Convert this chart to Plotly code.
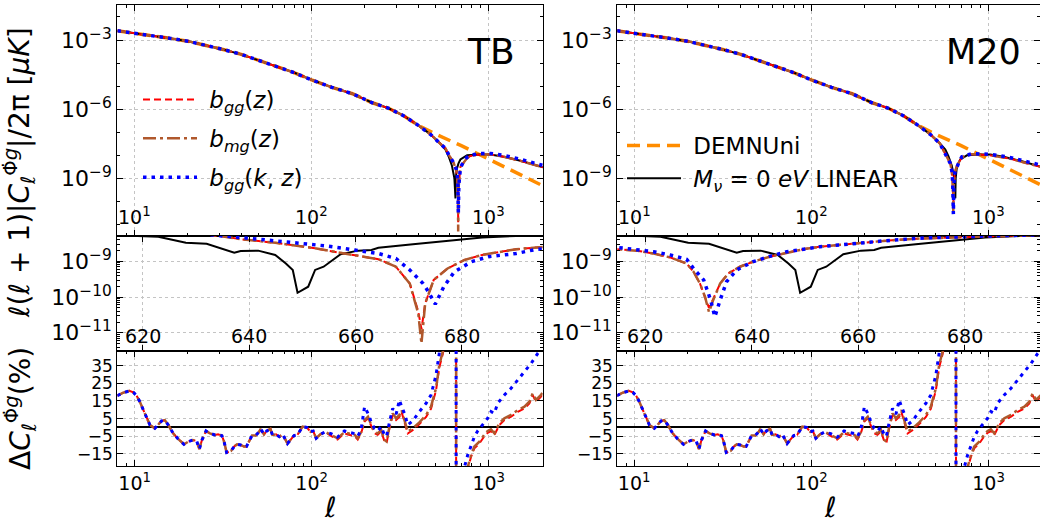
import math
import plotly.graph_objects as go

# ---------------- data (top/middle panels stored as log10) -------------
# common low-ell part of all top-panel curves
top_common_ell = [8, 10, 13, 16, 20, 25, 32, 40, 50, 63, 80, 100, 130, 170, 220, 270, 330, 400, 470, 530]
top_common_log = [-2.60, -2.70, -2.82, -2.93, -3.05, -3.22, -3.42, -3.62, -3.88, -4.12, -4.42, -4.73,
                  -5.05, -5.33, -5.72, -5.95, -6.28, -6.70, -7.10, -7.48]

# DEMNUni (orange) after it separates
orange_ell = [400, 500, 700, 1000, 1400, 2030]
orange_log = [-6.70, -7.08, -7.58, -8.17, -8.72, -9.33]

# linear Mnu=0 (black)
black_top_ell = [570, 594, 620, 640, 649, 652, 660, 675, 692, 755, 898, 1022, 1215, 1510, 2030]
black_top_log = [-7.75, -8.05, -8.45, -9.00, -9.87, -9.00, -8.60, -8.35, -8.18, -8.00, -7.96, -7.97, -8.06, -8.24, -8.52]

# TB top panel tails
tb_top_ell = [570, 594, 634, 655, 665, 670, 672.3, 675, 692, 723, 755, 788, 898, 1022, 1215, 1510, 2030]
tb_top_red_log = [-7.70, -7.97, -8.33, -8.65, -9.00, -9.60, -10.90, -9.45, -8.50, -8.28, -8.12, -8.03, -7.96, -7.96, -8.06, -8.24, -8.52]
tb_top_brown_log = [-7.70, -7.97, -8.33, -8.65, -9.00, -9.60, -11.30, -9.45, -8.50, -8.28, -8.12, -8.03, -7.96, -7.96, -8.06, -8.24, -8.52]
tb_top_blue_ell = [570, 594, 634, 655, 665, 670, 674, 678, 692, 723, 755, 788, 898, 1022, 1215, 1510, 2030]
tb_top_blue_log = [-7.70, -7.97, -8.33, -8.60, -8.90, -9.30, -10.50, -9.30, -8.55, -8.25, -8.08, -7.99, -7.92, -7.92, -8.00, -8.17, -8.44]

# M20 top panel tails
m20_top_ell = [570, 608, 620, 627, 632, 636, 645, 660, 680, 707, 806, 1000, 1296, 2030]
m20_top_red_log = [-7.92, -8.35, -8.70, -9.20, -10.30, -9.30, -8.75, -8.50, -8.30, -8.08, -7.95, -7.99, -8.13, -8.53]
m20_top_brown_log = [-7.92, -8.35, -8.70, -9.20, -10.45, -9.30, -8.75, -8.50, -8.30, -8.08, -7.95, -7.99, -8.13, -8.53]
m20_top_blue_ell = [570, 608, 620, 627, 632.8, 636, 645, 660, 680, 707, 806, 1000, 1296, 2030]
m20_top_blue_log = [-7.92, -8.35, -8.68, -9.15, -10.55, -9.35, -8.75, -8.50, -8.30, -8.06, -7.93, -7.95, -8.08, -8.45]

# middle (zoom around the zero crossing)
mid_black_ell = [612, 615.3, 622.9, 628.1, 632.0, 637.2, 638.4, 641.7, 644.9, 646.9, 648.2, 649.1, 651.1,
                 652.4, 654.0, 657.2, 660.5, 663.0, 664.3, 670.8, 677.3, 683.8, 690.2, 699]
mid_black_log = [-8.25, -8.27, -8.31, -8.48, -8.51, -8.76, -8.71, -8.70, -8.82, -9.06, -9.24, -9.88, -9.71,
                 -9.24, -9.15, -8.80, -8.70, -8.68, -8.62, -8.52, -8.42, -8.33, -8.29, -8.26]

mid_tb_ell = [612, 625, 634.6, 638.4, 644.9, 651.4, 657.9, 664.3, 667.6, 670.2, 671.8, 672.4, 673.1, 674.7,
              677.3, 680.5, 683.8, 687.0, 690.2, 694.1, 699]
mid_tb_brown_log = [-8.00, -8.15, -8.29, -8.38, -8.48, -8.61, -8.78, -8.94, -9.15, -9.62, -10.46, -11.30, -10.18,
                    -9.52, -9.20, -8.96, -8.82, -8.73, -8.66, -8.61, -8.56]
mid_tb_red_log = [-8.00, -8.15, -8.29, -8.38, -8.48, -8.61, -8.78, -8.94, -9.15, -9.62, -10.40, -10.90, -10.18,
                  -9.52, -9.20, -8.96, -8.82, -8.73, -8.66, -8.61, -8.56]
mid_tb_blue_ell = [612, 630, 640.4, 644.9, 651.4, 654.6, 657.9, 664.3, 667.6, 670.2, 672.7, 673.7, 675.0, 676.6,
                   678.6, 681.8, 685.0, 690.2, 694.1, 699]
mid_tb_blue_log = [-8.05, -8.22, -8.36, -8.42, -8.51, -8.57, -8.64, -8.78, -8.92, -9.24, -9.62, -9.85, -10.20,
                   -9.71, -9.29, -9.01, -8.87, -8.78, -8.66, -8.62]

mid_m20_ell = [612, 618.4, 621.6, 624.7, 627.8, 629.1, 630.3, 631.25, 632.0, 632.8, 634.1, 635.6, 637.8, 640.3,
               643.4, 646.6, 649.7, 652.8, 659.1, 665.3, 671.6, 677.8, 684.1, 690.3, 699]
mid_m20_brown_log = [-8.63, -8.70, -8.78, -8.89, -9.06, -9.29, -9.62, -9.99, -10.42, -10.08, -9.62, -9.34, -9.15,
                     -9.01, -8.87, -8.76, -8.66, -8.59, -8.50, -8.42, -8.36, -8.33, -8.29, -8.27, -8.24]
mid_m20_red_log = [-8.63, -8.70, -8.78, -8.89, -9.06, -9.29, -9.62, -9.99, -10.30, -10.05, -9.62, -9.34, -9.15,
                   -9.01, -8.87, -8.76, -8.66, -8.59, -8.50, -8.42, -8.36, -8.33, -8.29, -8.27, -8.24]
mid_m20_blue_ell = [612, 621.6, 624.7, 627.8, 629.1, 631.0, 632.3, 633.1, 634.1, 635.3, 637.2, 640.3, 643.4,
                    646.6, 652.8, 659.1, 665.3, 671.6, 677.8, 684.1, 690.3, 699]
mid_m20_blue_log = [-8.56, -8.73, -8.82, -8.94, -9.20, -9.52, -10.08, -10.55, -10.08, -9.57, -9.24, -9.01, -8.86,
                    -8.73, -8.59, -8.50, -8.42, -8.35, -8.31, -8.29, -8.27, -8.24]

# bottom: relative difference (%)
delta_low_ell = [7.98, 8.63, 9.33, 9.83, 10.26, 10.7, 11.2, 11.7, 12.2, 13.0, 13.6, 14.2, 14.8, 15.5, 16.5,
                 17.6, 19.0, 20.1, 21.3, 22.4, 23.2, 24.0, 25.3, 26.6, 28.4, 29.6, 31.1, 32.0, 33.1, 35.0,
                 36.5, 37.9, 39.7, 41.5, 42.8, 44.6, 46.0, 48.2, 50.5, 51.5, 53.8, 55.7, 58.5, 60.0, 62.8,
                 65.7, 68.6, 73.0, 75.7, 79.5, 83.1, 88.9, 93.9, 98.6, 102, 106, 112, 119]
delta_low = [18.0, 19.7, 20.7, 19.9, 18.0, 14.6, 9.9, 5.2, 1.4, -0.5, 1.4, 3.7, 4.2, 1.4, -3.3,
             -6.5, -9.5, -8.0, -7.1, -7.6, -12.2, -7.1, -2.0, -3.3, -4.2, -3.9, -4.6, -8.0, -14.2, -13.3,
             -10.8, -9.5, -9.9, -10.8, -10.8, -7.1, -4.6, -4.6, -2.4, -0.8, -3.9, -2.0, -0.8, -4.2, -3.9,
             -5.2, -3.9, -9.1, -7.1, -4.6, -4.2, 0.5, 0.0, -2.4, -2.0, -6.1, -3.9, -2.5]

delta_mid_ell = [128.6, 140, 153, 160, 175, 182, 190, 199, 208, 217, 226, 236, 247, 258, 265, 275, 287, 300,
                 313, 322, 334, 349, 372, 406, 443, 472, 504, 526, 550, 590, 630, 654]
delta_mid_brown = [-4.2, -6.1, -2.7, -3.3, -4.2, -6.1, -2.7, 4.2, 6.1, 1.4, -2.4, -3.3, -1.4, -7.1, -8.0, 0.5,
                   8.0, 5.2, 7.1, 9.9, 4.2, -2.4, -0.5, 2.9, 7.1, 11.8, 22.2, 35.4, 42.9, 60, 150, 600]
delta_mid_red = [-4.8, -6.8, -3.3, -4.0, -4.9, -6.8, -3.4, 3.4, 5.2, 0.6, -3.2, -4.1, -2.2, -7.9, -8.8, -0.4,
                 7.0, 4.2, 6.0, 8.8, 3.2, -3.4, -1.5, 1.9, 6.0, 10.6, 21.0, 34.0, 41.5, 58, 148, 600]
delta_mid_blue = [-3.5, -5.5, -2.0, -2.5, -3.5, -5.0, -1.5, 11.8, 8.0, 3.0, -0.5, -2.0, 0.5, -4.5, -5.0, 3.0,
                  10.8, 7.5, 15.6, 12.0, 8.0, 1.5, 3.7, 9.0, 13.7, 18.4, 29.7, 42.0, 60.0, 80, 160, 600]

delta_hi_ell = [655, 700, 761, 795, 830, 886, 946, 987, 1030, 1076, 1149, 1226, 1338, 1459, 1592, 1697, 1772,
                1850, 1974, 2030]
delta_hi_brown = [-600, -80, -22.5, -15.6, -10.8, -8.0, -3.9, -2.0, -1.0, -3.3, 2.4, 5.2, 7.1, 9.9, 11.8, 14.6,
                  19.3, 15.6, 18.4, 20.5]
delta_hi_red = [-600, -82, -23.5, -16.6, -11.8, -9.0, -4.9, -3.0, -2.0, -4.3, 1.4, 4.2, 6.1, 8.9, 10.8, 13.6,
                18.3, 14.6, 17.4, 19.5]
delta_hi_blue_ell = [655, 700, 729, 761, 795, 830, 866, 925, 987, 1031, 1076, 1124, 1226, 1338, 1459, 1592,
                     1737, 1894, 2030]
delta_hi_blue = [-600, -60, -22.5, -15.6, -10.8, -5.2, -2.0, 1.4, 5.2, 9.0, 8.0, 13.7, 18.4, 22.2, 26.9, 31.6,
                 36.3, 42.0, 46.0]

# tick labels
xlog_tickvals = [10, 100, 1000]
xlog_ticktext = ["10<sup>1</sup>", "10<sup>2</sup>", "10<sup>3</sup>"]
ytop_tickvals = [1e-3, 1e-6, 1e-9]
ytop_ticktext = ["10<sup>−3</sup>", "10<sup>−6</sup>", "10<sup>−9</sup>"]
ymid_tickvals = [1e-9, 1e-10, 1e-11]
ymid_ticktext = ["10<sup>−9</sup>", "10<sup>−10</sup>", "10<sup>−11</sup>"]
xmid_tickvals = [620, 640, 660, 680]
xmid_ticktext = ["620", "640", "660", "680"]
ybot_tickvals = [35, 25, 15, 5, -5, -15]
ybot_ticktext = ["35", "25", "15", "5", "−5", "−15"]


def pw(a):
    return [10 ** v for v in a]


# ---------------- styles ----------------
RED = dict(color="#ff0000", width=2, dash="7px,4px")
BROWN = dict(color="#b0582c", width=2.5, dash="13px,4px,3px,4px")
BLUE = dict(color="#0000ff", width=3.5, dash="3.5px,5px")
ORANGE = dict(color="#ff8c00", width=3.5, dash="13px,7px")
BLACK = dict(color="#000000", width=2)
FONT = "DejaVu Sans"

fig = go.Figure()


def add(x, y, line, xa, ya, name=None, legend=None):
    fig.add_trace(go.Scatter(x=x, y=y, mode="lines", line=line, xaxis=xa, yaxis=ya,
                             name=name, showlegend=legend is not None,
                             legend=legend if legend else "legend", legendgroup=name,
                             hoverinfo="skip"))


SP = "\u00a0"
LBL_RED = SP + "<i>b</i><sub><i>gg</i></sub>(<i>z</i>)"
LBL_BROWN = SP + "<i>b</i><sub><i>mg</i></sub>(<i>z</i>)"
LBL_BLUE = SP + "<i>b</i><sub><i>gg</i></sub>(<i>k</i>, <i>z</i>)"
LBL_OR = SP + "DEMNUni"
LBL_BK = SP + "<i>M</i><sub><i>ν</i></sub> = 0 <i>eV</i> LINEAR"

n_or = 17  # common part up to ell=330 for orange
orange_full_ell = top_common_ell[:n_or] + orange_ell
orange_full = pw(top_common_log[:n_or] + orange_log)
black_full_ell = top_common_ell + black_top_ell
black_full = pw(top_common_log + black_top_log)

# ---- TB column
add(orange_full_ell, orange_full, ORANGE, "x", "y")
add(black_full_ell, black_full, BLACK, "x", "y")
add(top_common_ell + tb_top_ell, pw(top_common_log + tb_top_red_log), RED, "x", "y", LBL_RED, "legend")
add(top_common_ell + tb_top_ell, pw(top_common_log + tb_top_brown_log), BROWN, "x", "y", LBL_BROWN, "legend")
add(top_common_ell + tb_top_blue_ell, pw(top_common_log + tb_top_blue_log), BLUE, "x", "y", LBL_BLUE, "legend")

add(mid_black_ell, pw(mid_black_log), BLACK, "x2", "y2")
add(mid_tb_ell, pw(mid_tb_red_log), RED, "x2", "y2")
add(mid_tb_ell, pw(mid_tb_brown_log), BROWN, "x2", "y2")
add(mid_tb_blue_ell, pw(mid_tb_blue_log), BLUE, "x2", "y2")

bot_ell = delta_low_ell + delta_mid_ell + delta_hi_ell
bot_blue_ell = delta_low_ell + delta_mid_ell + delta_hi_blue_ell
BRED = dict(RED, width=2)
BBROWN = dict(BROWN, width=2.5)
BBLUE = dict(BLUE, width=3)
for xa, ya in (("x3", "y3"), ("x6", "y6")):
    add(bot_ell, delta_low + delta_mid_red + delta_hi_red, BRED, xa, ya)
    add(bot_ell, delta_low + delta_mid_brown + delta_hi_brown, BBROWN, xa, ya)
    add(bot_blue_ell, delta_low + delta_mid_blue + delta_hi_blue, BBLUE, xa, ya)

# ---- M20 column
add(orange_full_ell, orange_full, ORANGE, "x4", "y4", LBL_OR, "legend2")
add(black_full_ell, black_full, BLACK, "x4", "y4", LBL_BK, "legend2")
add(top_common_ell + m20_top_ell, pw(top_common_log + m20_top_red_log), RED, "x4", "y4")
add(top_common_ell + m20_top_ell, pw(top_common_log + m20_top_brown_log), BROWN, "x4", "y4")
add(top_common_ell + m20_top_blue_ell, pw(top_common_log + m20_top_blue_log), BLUE, "x4", "y4")

add(mid_black_ell, pw(mid_black_log), BLACK, "x5", "y5")
add(mid_m20_ell, pw(mid_m20_red_log), RED, "x5", "y5")
add(mid_m20_ell, pw(mid_m20_brown_log), BROWN, "x5", "y5")
add(mid_m20_blue_ell, pw(mid_m20_blue_log), BLUE, "x5", "y5")

# ---------------- axes ----------------
ML, MR, MT, MB = 117, 0, 5, 58
W, H = 1040, 524
pw_w = W - ML - MR
ph_h = H - MT - MB


def px_x(p):
    return (p - ML) / pw_w


def px_y(p):
    return (H - MB - p) / ph_h


XL = [px_x(117.3), px_x(542.7)]
XR = [px_x(617.3), 1.0]
Y_TOP = [px_y(236), 1.0]
Y_MID = [px_y(351), px_y(236)]
Y_BOT = [0.0, px_y(351)]

minor_x = [k * 10 ** e for e in range(0, 4) for k in range(2, 10)]
minor_ytop = [10.0 ** e for e in range(-12, 0)]
minor_ymid = [k * 10.0 ** e for e in range(-12, -8) for k in range(2, 10)]

TICKFONT = dict(size=19, color="black", family=FONT)
LOGYFONT = dict(size=22, color="black", family=FONT)
BOTYFONT = dict(size=17, color="black", family=FONT)


def base(**kw):
    d = dict(showline=True, linecolor="black", linewidth=1.2, mirror="allticks",
             ticks="inside", ticklen=6, tickwidth=1, tickcolor="black",
             showgrid=True, gridcolor="#c4c4c4", griddash="dot", gridwidth=1,
             zeroline=False, tickfont=TICKFONT)
    d.update(kw)
    return d


def minor(vals, ln=3):
    return dict(tickvals=vals, ticks="inside", ticklen=ln, tickwidth=0.8, tickcolor="black", showgrid=False)


layout_axes = {}
inside_labels = []
for dom, xr_log, xr_mid, sfx in [(XL, [0.902, 3.305], [615.2, 695.2], ("", "2", "3")),
                                 (XR, [0.905, 3.29], [614.8, 694.1], ("4", "5", "6"))]:
    a, b, c = sfx
    layout_axes["xaxis" + a] = base(domain=dom, anchor="y" + a, type="log", range=xr_log,
                                    tickvals=xlog_tickvals, showticklabels=False, minor=minor(minor_x, 3))
    layout_axes["yaxis" + a] = base(domain=Y_TOP, anchor="x" + a, type="log", range=[-11.5, -1.48],
                                    tickvals=ytop_tickvals, ticktext=ytop_ticktext, minor=minor(minor_ytop, 3),
                                    tickfont=LOGYFONT)
    layout_axes["xaxis" + b] = base(domain=dom, anchor="y" + b, range=xr_mid,
                                    tickvals=xmid_tickvals, showticklabels=False)
    layout_axes["yaxis" + b] = base(domain=Y_MID, anchor="x" + b, type="log", range=[-11.51, -8.29],
                                    tickvals=ymid_tickvals, ticktext=ymid_ticktext, minor=minor(minor_ymid, 3),
                                    tickfont=LOGYFONT)
    layout_axes["xaxis" + c] = base(domain=dom, anchor="y" + c, type="log", range=xr_log,
                                    tickvals=xlog_tickvals, ticktext=xlog_ticktext, minor=minor(minor_x, 3))
    layout_axes["yaxis" + c] = base(domain=Y_BOT, anchor="x" + c, range=[-21.8, 43.3],
                                    tickvals=ybot_tickvals, ticktext=ybot_ticktext, tickfont=BOTYFONT,
                                    zeroline=True, zerolinecolor="black", zerolinewidth=1.6)
    # tick labels drawn inside the top and middle panels (as in the original)
    for v, t in zip(xlog_tickvals, xlog_ticktext):
        inside_labels.append(dict(text=t, x=math.log10(v), xref="x" + a, y=(236 - 216) / 231.0,
                                  yref="y" + a + " domain", showarrow=False, xanchor="center",
                                  yanchor="middle", font=TICKFONT))
    for v, t in zip(xmid_tickvals, xmid_ticktext):
        inside_labels.append(dict(text=t, x=v, xref="x" + b, y=(351 - 336) / 115.0,
                                  yref="y" + b + " domain", showarrow=False, xanchor="center",
                                  yanchor="middle", font=TICKFONT))


def label(text, xp, yp, size, angle=0):
    return dict(text=text, x=px_x(xp), y=px_y(yp), xref="paper", yref="paper", showarrow=False,
                xanchor="center", yanchor="middle", textangle=angle,
                font=dict(size=size, family=FONT, color="black"))


ann = [
    label("TB", 491, 52, 36),
    label("M20", 983, 52, 35),
    label("<i>ℓ</i>(<i>ℓ</i> + 1)|<i>C</i><sub><i>ℓ</i></sub><sup>Φ̇<i>g</i></sup>|/2π [<i>μK</i>]",
          20, 173, 28, -90),
    label("Δ<i>C</i><sub><i>ℓ</i></sub><sup>Φ̇<i>g</i></sup>(%)", 20, 409, 28, -90),
    label("<i>ℓ</i>", 330, 507, 28),
    label("<i>ℓ</i>", 830, 507, 28),
] + inside_labels

fig.update_layout(
    width=W, height=H, margin=dict(l=ML, r=MR, t=MT, b=MB),
    paper_bgcolor="white", plot_bgcolor="white",
    font=dict(family=FONT, color="black"),
    annotations=ann,
    showlegend=True,
    legend=dict(x=px_x(138), y=px_y(78), xanchor="left", yanchor="top", bgcolor="rgba(0,0,0,0)",
                font=dict(size=23, family=FONT, color="black"), itemwidth=54, tracegroupgap=6),
    legend2=dict(x=px_x(622), y=px_y(124), xanchor="left", yanchor="top", bgcolor="rgba(0,0,0,0)",
                 font=dict(size=23, family=FONT, color="black"), itemwidth=54, tracegroupgap=0),
    **layout_axes,
)

fig.write_html("out.html")
